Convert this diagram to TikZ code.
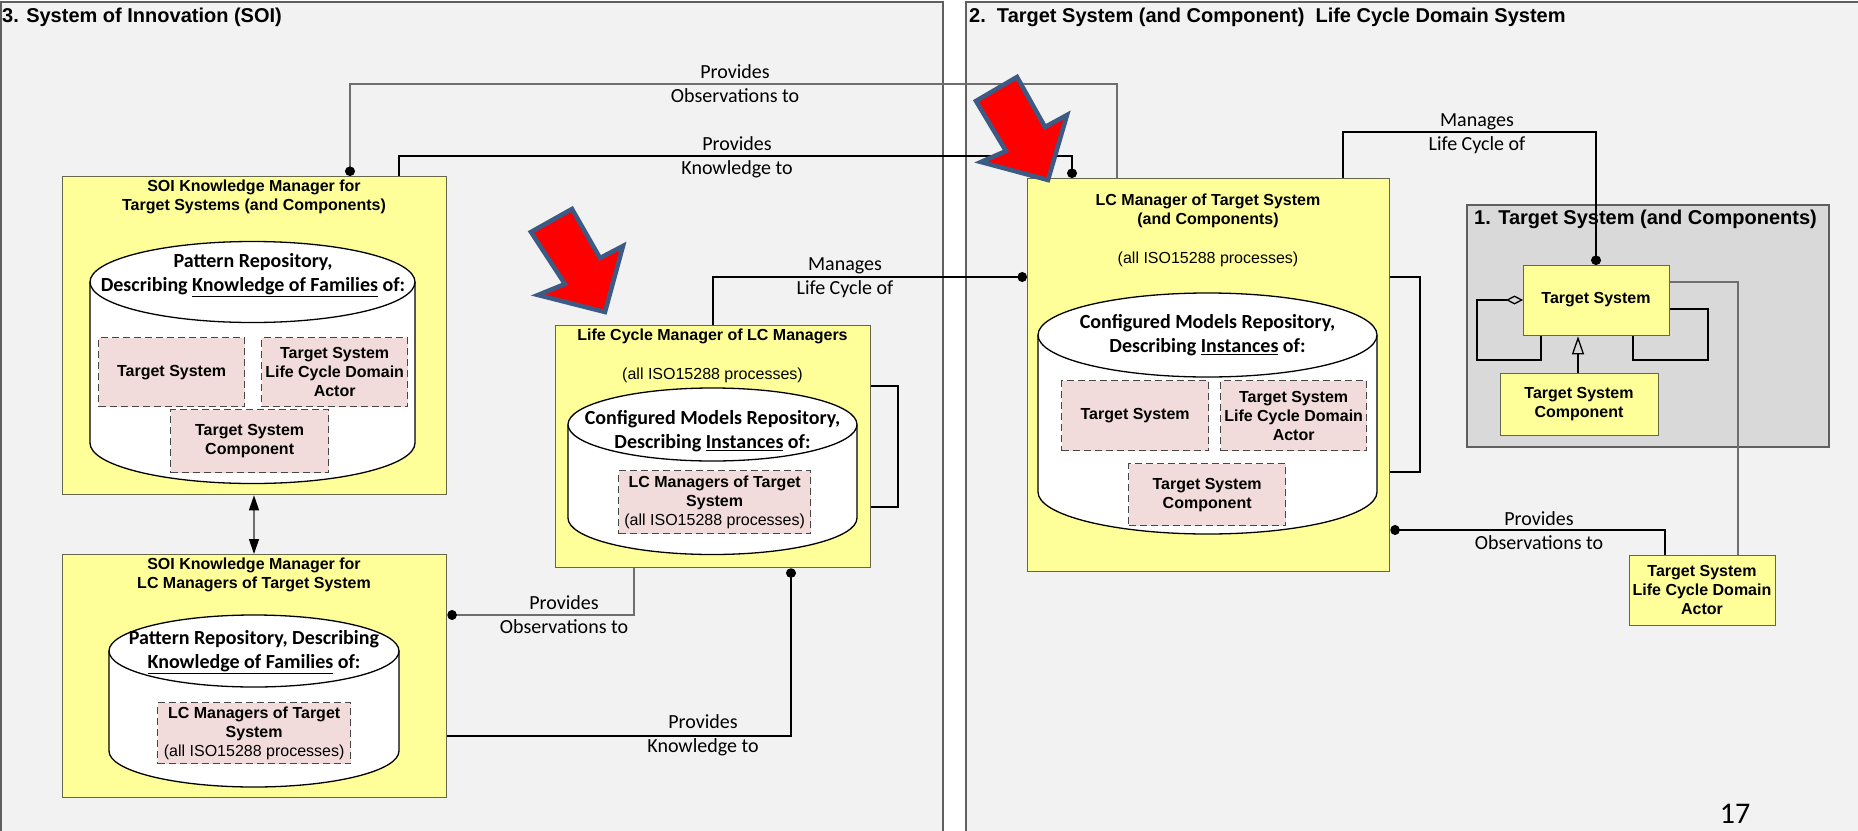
\documentclass[tikz,border=0pt]{standalone}
\usepackage{fontspec}
\setmainfont{Liberation Sans}
\newfontfamily\calfont{Carlito}
\usetikzlibrary{arrows.meta}

\definecolor{panelgray}{HTML}{F2F2F2}
\definecolor{framegray}{HTML}{5F5F5F}
\definecolor{innergray}{HTML}{D9D9D9}
\definecolor{boxyellow}{HTML}{FFFF99}
\definecolor{boxedge}{HTML}{66664A}
\definecolor{boxpink}{HTML}{F2DCDB}
\definecolor{dashgray}{HTML}{474747}
\definecolor{obsgray}{HTML}{6E6E6E}
\definecolor{arrowblue}{HTML}{3C5A84}

% repository cylinder: centre x, x radius, top y, y radius, bottom y
\newcommand\repocyl[5]{%
  \path[fill=white,draw=black,line width=1.3pt]
    ({#1-#2},#3) -- ({#1-#2},#5)
    arc[start angle=180,end angle=360,x radius=#2pt,y radius=#4pt]
    -- ({#1+#2},#3);
  \draw[fill=white,line width=1.3pt] (#1,#3) ellipse[x radius=#2pt,y radius=#4pt];
}

\begin{document}
\begin{tikzpicture}[x=1pt,y=-1pt,
  panel/.style={fill=panelgray,draw=framegray,line width=1.3pt},
  innerpanel/.style={fill=innergray,draw=framegray,line width=1.3pt},
  ybox/.style={draw=boxedge,fill=boxyellow,line width=1.3pt,anchor=north west,inner sep=0pt},
  pbox/.style={draw=dashgray,fill=boxpink,line width=1.3pt,dash pattern=on 7pt off 4pt,anchor=north west,inner sep=0pt},
  ptitle/.style={font=\fontsize{20}{24}\selectfont\bfseries,anchor=base west,inner sep=0pt},
  btxt/.style={font=\fontsize{16}{19}\selectfont\bfseries,align=center,inner sep=0pt},
  rtxt/.style={font=\fontsize{16}{19}\selectfont,align=center,inner sep=0pt},
  ctxt/.style={font=\calfont\fontsize{20}{24}\selectfont\bfseries,align=center,inner sep=0pt},
  lbl/.style={font=\calfont\fontsize{20}{24}\selectfont,align=center,inner sep=0pt},
  conn/.style={draw=black,line width=1.3pt},
  obs/.style={draw=obsgray,line width=1.3pt},
  dotstart/.style={{Circle[length=9.5pt,width=10pt,color=black]}-},
  dotend/.style={-{Circle[length=9.5pt,width=10pt,color=black]}},
  redarrow/.style={fill=red,draw=arrowblue,line width=4.5pt,line join=miter}
]
\useasboundingbox (0,0) rectangle (1858,830);
\fill[white] (0,0) rectangle (1858,830);

% ---------- the two domain panels ----------
\draw[panel] (1,2) rectangle (943,845);
\draw[panel] (966,2) rectangle (1875,845);
\node[ptitle] (soiTitle) at (2,22) {3. System of Innovation (SOI)};
\node[ptitle] (lcdTitle) at (969,22) {2.\ \ Target System (and Component)\ \ Life Cycle Domain System};

% ---------- target system panel ----------
\draw[innerpanel] (1467,205) rectangle (1829,447);
\node[ptitle] (tsTitle) at (1474,224) {1. Target System (and Components)};

% ---------- managers ----------
\node[ybox,minimum width=384pt,minimum height=318pt] (kmts) at (62,176) {};
\node[ybox,minimum width=384pt,minimum height=243pt] (kmlc) at (62,554) {};
\node[ybox,minimum width=315pt,minimum height=242pt] (lcm) at (555,325) {};
\node[ybox,minimum width=362pt,minimum height=393pt] (lcmts) at (1027,178) {};
\node[ybox,minimum width=146pt,minimum height=70pt] (tsys) at (1523,265) {};
\node[ybox,minimum width=158pt,minimum height=62pt] (tsc) at (1500,373) {};
\node[ybox,minimum width=146pt,minimum height=70pt] (actor) at (1629,555) {};

\node[btxt] (kmtsT) at (254,196.5) {SOI Knowledge Manager for\\Target Systems (and Components)};
\node[btxt] (kmlcT) at (254,575) {SOI Knowledge Manager for\\LC Managers of Target System};
\node[btxt] (lcmT) at (712.5,336) {Life Cycle Manager of LC Managers};
\node[rtxt] (lcmP) at (712.5,375) {(all ISO15288 processes)};
\node[btxt] (lcmtsT) at (1208,211) {LC Manager of Target System\\(and Components)};
\node[rtxt] (lcmtsP) at (1208,259) {(all ISO15288 processes)};
\node[btxt] (tsysT) at (1596,300) {Target System};
\node[btxt] (tscT) at (1579,404) {Target System\\Component};
\node[btxt] (actorT) at (1702,590) {Target System\\Life Cycle Domain\\Actor};

% ---------- repositories ----------
\repocyl{252.5}{162.5}{282}{40.5}{443}
\node[ctxt] (rep1) at (253,275) {Pattern Repository,\\Describing \underline{Knowledge of Families} of:};
\node[pbox,minimum width=146pt,minimum height=69pt] (r1a) at (98,337) {};
\node[btxt] at (r1a.center) {Target System};
\node[pbox,minimum width=146pt,minimum height=69pt] (r1b) at (261,337) {};
\node[btxt] at (r1b.center) {Target System\\Life Cycle Domain\\Actor};
\node[pbox,minimum width=158pt,minimum height=63pt] (r1c) at (170,409) {};
\node[btxt] at (r1c.center) {Target System\\Component};

\repocyl{254}{145}{651}{36}{751}
\node[ctxt] (rep2) at (254,652) {Pattern Repository, Describing\\\underline{Knowledge of Families} of:};
\node[pbox,minimum width=193pt,minimum height=61pt] (r2a) at (157,702) {};
\node[btxt] at (r2a.center) {LC Managers of Target\\System\\\mdseries(all ISO15288 processes)};

\repocyl{712.5}{144.5}{424.5}{36.5}{518}
\node[ctxt] (rep3) at (712.5,431.5) {Configured Models Repository,\\Describing \underline{Instances} of:};
\node[pbox,minimum width=192pt,minimum height=63pt] (r3a) at (618,470) {};
\node[btxt] at (r3a.center) {LC Managers of Target\\System\\\mdseries(all ISO15288 processes)};

\repocyl{1207.5}{169.5}{335}{42}{492}
\node[ctxt] (rep4) at (1207.5,335) {Configured Models Repository,\\Describing \underline{Instances} of:};
\node[pbox,minimum width=147pt,minimum height=70pt] (r4a) at (1061,380) {};
\node[btxt] at (r4a.center) {Target System};
\node[pbox,minimum width=146pt,minimum height=70pt] (r4b) at (1220,380) {};
\node[btxt] at (r4b.center) {Target System\\Life Cycle Domain\\Actor};
\node[pbox,minimum width=157pt,minimum height=62pt] (r4c) at (1128,463) {};
\node[btxt] at (r4c.center) {Target System\\Component};

% ---------- connectors ----------
\draw[obs,dotstart] (350,0 |- kmts.north) -- (350,84) -| (1117,0 |- lcmts.north);
\node[lbl] (l1) at (735,84) {Provides\\Observations to};

\draw[conn,dotend] (399,0 |- kmts.north) -- (399,156) -| (1072,0 |- lcmts.north);
\node[lbl] (l2) at (737,157) {Provides\\Knowledge to};

\draw[conn,dotend] (713,0 |- lcm.north) -- (713,277) -- (lcmts.west |- 0,277);
\node[lbl] (l3) at (845,277.5) {Manages\\Life Cycle of};

\draw[obs,dotstart] (kmlc.east |- 0,615) -- (634,615) -- (634,0 |- lcm.south);
\node[lbl] (l4) at (564,615) {Provides\\Observations to};

\draw[conn,dotend] (kmlc.east |- 0,736) -- (791,736) -- (791,0 |- lcm.south);
\node[lbl] (l5) at (703,735.5) {Provides\\Knowledge to};

\draw[conn] (lcm.east |- 0,386) -- (898,386) -- (898,507) -- (lcm.east |- 0,507);
\draw[conn] (lcmts.east |- 0,277) -- (1420,277) -- (1420,472) -- (lcmts.east |- 0,472);

\draw[conn,dotend] (1343,0 |- lcmts.north) -- (1343,132) -| (1596,0 |- tsys.north);
\node[lbl] (l6) at (1477,134) {Manages\\Life Cycle of};

\draw[conn,dotstart] (lcmts.east |- 0,530) -- (1665,530) -- (1665,0 |- actor.north);
\node[lbl] (l7) at (1539,530.5) {Provides\\Observations to};

\draw[obs] (tsys.east |- 0,282) -- (1738,282) -- (1738,0 |- actor.north);

\draw[obs,{Triangle[length=15pt,width=10pt,color=black]}-{Triangle[length=15pt,width=10pt,color=black]}]
  (254,0 |- kmts.south) -- (254,0 |- kmlc.north);

\draw[conn,-{Triangle[open,length=18pt,width=12pt]}] (1578,0 |- tsc.north) -- (1578,0 |- tsys.south);
\draw[conn,-{Diamond[open,length=17pt,width=9pt]}] (1541,0 |- tsys.south) -- (1541,360) -- (1477,360) -- (1477,300) -- (tsys.west |- 0,300);
\draw[conn] (tsys.east |- 0,309) -- (1708,309) -- (1708,360) -- (1633,360) -- (1633,0 |- tsys.south);

% ---------- highlight arrows ----------
\draw[redarrow] (572,209) -- (531,232) -- (565,284) -- (538,295) -- (605,312) -- (623,246) -- (600,258) -- cycle;
\draw[redarrow] (1017,77) -- (976,101) -- (1006,151) -- (981,162) -- (1048,180) -- (1067,115) -- (1045,127) -- cycle;

% ---------- page number ----------
\node[font=\calfont\fontsize{30}{36}\selectfont,inner sep=0pt] (pageno) at (1735,814) {17};
\end{tikzpicture}
\end{document}
